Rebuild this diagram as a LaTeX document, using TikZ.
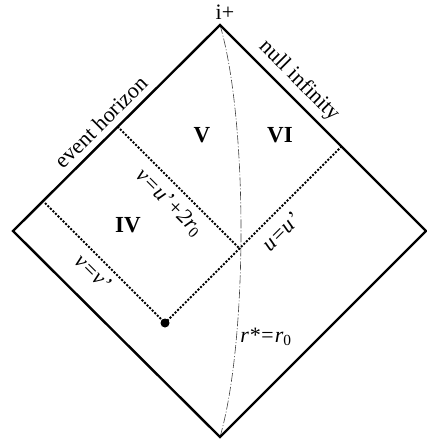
\documentclass[tikz,border=0pt]{standalone}
\usepackage{fontspec}
\setmainfont{Liberation Serif}
\begin{document}
\begin{tikzpicture}[x=1pt,y=-1pt,
 border/.style={line width=2.4pt, line join=miter},
 dotline/.style={line width=2pt, dash pattern=on 2pt off 1.6pt},
 rline/.style={line width=0.6pt, dash pattern=on 9pt off 2pt on 1pt off 2pt, black!75},
 lab/.style={font=\fontsize{22}{26}\selectfont, inner sep=0pt},
 reg/.style={font=\fontsize{23}{27}\selectfont\bfseries, inner sep=0pt}]
\useasboundingbox (0,0) rectangle (427,447);
\coordinate (top) at (220,25);
\coordinate (bottom) at (220,437);
\coordinate (left) at (13,231);
\coordinate (right) at (426,231);
\coordinate (eh) at (45,203);
\coordinate (dot) at (165,323);
\coordinate (ni) at (341.5,146.5);
\coordinate (eh2) at (117.5,126.5);
\coordinate (cross) at (240,249);
\draw[rline] (top) .. controls (248,120) and (248,340) .. (bottom);
\draw[border] (top) -- (right) -- (bottom) -- (left) -- cycle;
\draw[dotline] (eh) -- (dot) -- (ni);
\draw[dotline] (eh2) -- (cross);
\fill (dot) circle (4.5);
\node[lab, rotate=45] (evh) at (101,122) {event horizon};
\node[lab, rotate=-45] (nif) at (299,81) {null infinity};
\node[reg] (V) at (202,135) {V};
\node[reg] (VI) at (280,135) {VI};
\node[reg] (IV) at (128,225) {IV};
\node[lab, rotate=-45] (l1) at (169,203) {{\itshape v=u'+2r}\textsubscript{\upshape 0}};
\node[lab, rotate=45] (l2) at (281,232) {\itshape u=u'};
\node[lab, rotate=-45] (l3) at (93,272) {\itshape v=v'};
\node[lab] (l4) at (266,337) {{\itshape r*=r}\textsubscript{\upshape 0}};
\node[lab] (ip) at (225,12) {i+};
\end{tikzpicture}
\end{document}
